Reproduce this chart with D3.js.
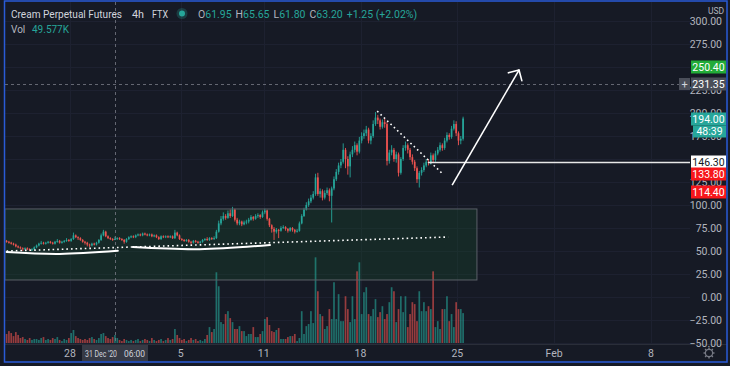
<!DOCTYPE html>
<html><head><meta charset="utf-8">
<script src="https://cdn.jsdelivr.net/npm/d3@7"></script>
<style>html,body{margin:0;padding:0;background:#161a25;overflow:hidden}</style>
</head><body><svg id="c" width="730" height="366"></svg>
<script>
// ---------- DATA ----------
const startTime = "2020-12-23T10:00:00Z"; // first 4h candle
const closes = [
60,59,58,57,55,54,53,52,53,52,
51,52,54,56,58,59,58,59,60,59,
58,60,61,59,60,61,62,61,63,67,
65,64,62,60,59,57,56,58,57,59,
62,67,71,66,64,63,61.95,63.2,64,63,
62,60,63,65,66,65,67,68,67,69,
68,67,68,66,67,65,63,66,65,66,
65,66,64,70,67,63,62,61,62,60,
59,61,60,59,60,62,63,62,64,63,
64,71,80,85,88,86,91,88,95,84,
80,82,79,81,82,84,87,85,88,89,
87,92,94,85,78,74,71,73,72,75,
76,74,72,75,73,71,72,80,88,95,
100,104,108,112,130,112,115,108,113,116,
110,118,128,136,143,147,160,150,142,155,
160,165,158,170,175,178,182,170,175,188,
195,192,185,190,188,148,157,160,150,155,
135,150,162,165,160,152,147,140,128,135,
138,143,147,146,154,149,156,160,165,162,
170,176,174,183,188,178,170,172,194];
const firstOpen = 61;
const highs = [
62,61,60,59,58,56,55,54,54,54,
53,53,55,57,59,61,60,60,61,61,
60,61,63,62,61,62,64,63,64,70,
68,66,65,63,61,60,58,59,59,60,
63,69,73,72,67,65,64,65.65,65,65,
64,63,64,66,67,67,68,69,69,70,
70,69,69,69,68,68,66,67,67,67,
67,67,67,73,71,68,64,63,63,63,
61,62,62,61,61,63,64,65,65,65,
66,73,83,88,92,90,94,95,98,96,
86,84,83,83,84,86,89,88,90,91,
90,94,96,95,86,79,76,75,74,77,
78,77,75,76,76,74,74,82,90,97,
103,107,111,115,134,135,118,117,116,119,
118,120,131,139,146,150,167,162,153,158,
164,169,167,174,179,182,186,184,178,192,
201,198,194,193,194,190,160,165,162,158,
157,152,165,169,167,162,155,149,142,137,
141,146,150,150,157,156,159,163,168,167,
173,179,178,186,192,191,180,175,196];
const lows = [
59,58,57,56,54,53,52,50,51,51,
50,50,51,53,55,57,57,57,58,58,
57,57,59,58,58,59,60,60,60,62,
64,62,61,59,57,55,54,55,56,56,
58,61,66,65,63,62,61,61.8,62,62,
61,58,59,62,64,64,64,66,66,66,
67,66,66,65,65,64,62,62,64,64,
64,64,63,63,66,62,61,60,60,59,
57,58,59,58,58,59,61,61,61,62,
62,63,70,78,83,84,85,86,87,82,
78,78,77,78,79,80,83,83,84,86,
85,86,90,83,76,70,62,69,64,71,
74,72,70,71,71,69,70,71,79,87,
94,98,102,106,110,110,108,105,106,111,
104,81,116,126,133,140,145,140,133,130,
152,157,154,156,167,172,175,167,166,173,
186,188,182,183,184,143,145,154,147,146,
131,133,148,159,156,149,144,137,124,119,
132,136,141,143,144,146,147,154,158,159,
160,168,171,172,181,175,165,166,170];
const volumesK = [
56,74,62,43,68,50,31,37,25,19,
31,19,25,25,19,31,37,19,25,19,
31,25,37,19,12,25,19,31,62,81,
43,31,25,19,25,19,31,37,25,19,
31,56,62,43,31,25,37,49.577,31,19,
12,25,19,12,19,12,19,25,12,19,
25,19,12,31,19,12,19,25,12,19,
31,19,25,87,50,31,19,25,12,19,
31,19,25,12,19,12,25,50,99,68,
87,440,353,130,118,180,198,155,130,87,
87,105,74,74,43,56,56,99,37,37,
56,74,149,161,112,74,68,81,93,25,
25,25,37,43,43,56,12,31,198,56,
105,118,198,124,533,322,180,167,87,105,
211,149,378,149,304,136,136,291,211,130,
291,149,446,502,180,316,347,180,167,211,
273,161,192,229,149,180,254,347,322,130,
211,291,192,291,99,180,254,242,136,322,
198,254,198,229,211,446,99,136,87,211,
211,291,136,180,99,254,211,211,186];

const priceTicks = [300,275,250,225,200,175,150,125,100,75,50,25,0,-25,-50];
const timeTickDates = ["2020-12-28","2021-01-05","2021-01-11","2021-01-18","2021-01-25","2021-02-01","2021-02-08"];
const timeTickLabels = ["28","5","11","18","25","Feb","8"];

// price-scale markers: value, kind
const markerValues = [250.40, 231.35, 194.00, 146.30, 133.80, 114.40];
const markerKinds  = ["green","cross","last","white","red","red"];
const countdownText = "48:39";

// drawings (time, price)
const curve1 = [["2020-12-23T10:00:00Z",48.9],["2020-12-27T06:00:00Z",46.8],["2020-12-31T11:00:00Z",50.2]];
const curve2 = [["2021-01-01T13:00:00Z",54.3],["2021-01-06T09:00:00Z",52.0],["2021-01-11T11:00:00Z",56.5]];
const supportLine = [["2020-12-23T10:00:00Z",50.0],["2021-01-24T08:00:00Z",65.2]];
const trendLine = [["2021-01-19T05:00:00Z",202.0],["2021-01-23T21:00:00Z",134.8]];
const levelLine = [["2021-01-22T21:00:00Z",146.3]];
const arrowLine = [["2021-01-24T15:00:00Z",121.7],["2021-01-29T11:00:00Z",246.7]];
const rectBox = [["2020-12-23T07:00:00Z",95.7],["2021-01-26T10:00:00Z",18.5]];
const crossTime = "2020-12-31T06:00:00Z";
const crossPrice = 231.35;
const hoverIndex = 47;
const titleParts = ["Cream Perpetual Futures", "4h", "FTX"];

// ---------- SETUP ----------
const svg = d3.select("#c");
const W = 730, H = 366;
const paneL = 5, paneR = 690, paneT = 2, paneB = 344;
const FONT = "Roboto, 'Liberation Sans', 'DejaVu Sans', sans-serif";
const UP = "#26a69a", DOWN = "#ef5350", TXT = "#b2b5be";

const x = d3.scaleUtc()
  .domain([new Date("2020-12-28T00:00:00Z"), new Date("2021-02-08T00:00:00Z")])
  .range([70, 651]);
const y = d3.scaleLinear().domain([0, 300]).range([297, 21]);
const yv = d3.scaleLinear().domain([0, 560]).range([343, 253]);

const t0 = new Date(startTime).getTime();
const candles = closes.map((c, i) => ({
  t: new Date(t0 + i * 4 * 3600 * 1000),
  o: i === 0 ? firstOpen : closes[i - 1],
  h: highs[i], l: lows[i], c: c, v: volumesK[i]
}));
const P = d => [x(new Date(d[0])), y(d[1])];

svg.append("rect").attr("width", W).attr("height", H).attr("fill", "#161a25");

const defs = svg.append("defs");
defs.append("clipPath").attr("id", "pane").append("rect")
  .attr("x", paneL).attr("y", paneT).attr("width", paneR - paneL).attr("height", paneB - paneT);

const pane = svg.append("g").attr("clip-path", "url(#pane)");

// grid
pane.selectAll(".hg").data(priceTicks).join("line")
  .attr("x1", paneL).attr("x2", paneR)
  .attr("y1", d => Math.round(y(d)) + 0.5).attr("y2", d => Math.round(y(d)) + 0.5)
  .attr("stroke", "#1d2130").attr("stroke-width", 1);
pane.selectAll(".vg").data(timeTickDates).join("line")
  .attr("y1", paneT).attr("y2", paneB)
  .attr("x1", d => Math.round(x(new Date(d + "T00:00:00Z"))) + 0.5)
  .attr("x2", d => Math.round(x(new Date(d + "T00:00:00Z"))) + 0.5)
  .attr("stroke", "#1d2130").attr("stroke-width", 1);

// rectangle fill
const r0 = P(rectBox[0]), r1 = P(rectBox[1]);
pane.append("rect")
  .attr("x", r0[0]).attr("y", r0[1]).attr("width", r1[0] - r0[0]).attr("height", r1[1] - r0[1])
  .attr("fill", "#1a4a2a").attr("fill-opacity", 0.32);

// volume
const bw = 1.7;
pane.selectAll(".vol").data(candles).join("rect")
  .attr("x", d => x(d.t) - bw / 2).attr("width", bw)
  .attr("y", d => yv(d.v)).attr("height", d => yv(0) - yv(d.v))
  .attr("fill", d => d.c >= d.o ? UP : DOWN).attr("fill-opacity", 0.6);

// candles
const cg = pane.append("g");
cg.selectAll(".wick").data(candles).join("line")
  .attr("x1", d => x(d.t)).attr("x2", d => x(d.t))
  .attr("y1", d => y(d.h)).attr("y2", d => y(d.l))
  .attr("stroke", d => d.c >= d.o ? UP : DOWN).attr("stroke-width", 0.9);
cg.selectAll(".body").data(candles).join("rect")
  .attr("x", d => x(d.t) - bw / 2).attr("width", bw)
  .attr("y", d => y(Math.max(d.o, d.c)))
  .attr("height", d => Math.max(1, Math.abs(y(d.o) - y(d.c))))
  .attr("fill", d => d.c >= d.o ? UP : DOWN);

// rectangle border
pane.append("rect")
  .attr("x", r0[0]).attr("y", r0[1]).attr("width", r1[0] - r0[0]).attr("height", r1[1] - r0[1])
  .attr("fill", "none").attr("stroke", "#5a6068").attr("stroke-width", 1);

// crosshair
const cx = Math.round(x(new Date(crossTime))) + 0.5;
const cy = Math.round(y(crossPrice)) + 0.5;
pane.append("line").attr("x1", cx).attr("x2", cx).attr("y1", paneT).attr("y2", paneB)
  .attr("stroke", "#787b86").attr("stroke-dasharray", "3,3").attr("stroke-opacity", 0.8);
pane.append("line").attr("x1", paneL).attr("x2", 679).attr("y1", cy).attr("y2", cy)
  .attr("stroke", "#787b86").attr("stroke-dasharray", "3,3").attr("stroke-opacity", 0.8);

// drawings
const smooth = d3.line().curve(d3.curveNatural);
[curve1, curve2].forEach(cv => {
  pane.append("path").attr("d", smooth(cv.map(P)))
    .attr("fill", "none").attr("stroke", "#ffffff").attr("stroke-width", 2).attr("stroke-linecap", "round");
});
[supportLine, trendLine].forEach(ln => {
  const a = P(ln[0]), b = P(ln[1]);
  pane.append("line").attr("x1", a[0]).attr("y1", a[1]).attr("x2", b[0]).attr("y2", b[1])
    .attr("stroke", "#ffffff").attr("stroke-width", 1.6).attr("stroke-dasharray", "1.6,3");
});
const lv = P(levelLine[0]);
pane.append("line").attr("x1", lv[0]).attr("x2", paneR).attr("y1", Math.round(lv[1]) + 0.5).attr("y2", Math.round(lv[1]) + 0.5)
  .attr("stroke", "#e8e8e8").attr("stroke-width", 1.6);
const a0 = P(arrowLine[0]), a1 = P(arrowLine[1]);
pane.append("line").attr("x1", a0[0]).attr("y1", a0[1]).attr("x2", a1[0]).attr("y2", a1[1])
  .attr("stroke", "#ffffff").attr("stroke-width", 1.6);
const back = Math.atan2(a0[1] - a1[1], a0[0] - a1[0]);
[-Math.PI / 4, Math.PI / 4].forEach(dA => {
  pane.append("line").attr("x1", a1[0]).attr("y1", a1[1])
    .attr("x2", a1[0] + 11 * Math.cos(back + dA)).attr("y2", a1[1] + 11 * Math.sin(back + dA))
    .attr("stroke", "#ffffff").attr("stroke-width", 1.6).attr("stroke-linecap", "round");
});

// time axis
svg.append("line").attr("x1", paneL).attr("x2", 727).attr("y1", paneB + 0.5).attr("y2", paneB + 0.5)
  .attr("stroke", "#2a2e39");
svg.selectAll(".tl").data(timeTickDates).join("text")
  .attr("x", d => x(new Date(d + "T00:00:00Z"))).attr("y", 357)
  .attr("text-anchor", "middle").attr("fill", TXT).attr("font-family", FONT).attr("font-size", 10.5)
  .text((d, i) => timeTickLabels[i]);
const ct = new Date(crossTime);
svg.append("rect").attr("x", 82).attr("y", 345).attr("width", 66).attr("height", 16).attr("fill", "#363a45");
svg.append("text").attr("x", 85).attr("y", 357).attr("fill", "#d1d4dc").attr("font-family", FONT).attr("font-size", 9.5)
  .attr("textLength", 32).attr("lengthAdjust", "spacingAndGlyphs")
  .text(d3.utcFormat("%d %b '%y")(ct));
svg.append("text").attr("x", 124).attr("y", 357).attr("fill", "#d1d4dc").attr("font-family", FONT).attr("font-size", 9.5)
  .attr("textLength", 21).attr("lengthAdjust", "spacingAndGlyphs")
  .text(d3.utcFormat("%H:%M")(ct));
// gear
const gear = svg.append("g").attr("transform", "translate(709,353)");
gear.append("circle").attr("r", 3.6).attr("fill", "none").attr("stroke", "#787b86").attr("stroke-width", 1.2);
d3.range(8).forEach(k => {
  const ang = k * Math.PI / 4;
  gear.append("line").attr("x1", 3.6 * Math.cos(ang)).attr("y1", 3.6 * Math.sin(ang))
    .attr("x2", 5.5 * Math.cos(ang)).attr("y2", 5.5 * Math.sin(ang))
    .attr("stroke", "#787b86").attr("stroke-width", 1.4);
});

// price axis labels (ones fully covered by a marker box are not drawn)
const covered = v => markerValues.some(m => Math.abs(y(m) - y(v)) < 5);
svg.append("text").attr("x", 716).attr("y", 14).attr("text-anchor", "middle")
  .attr("fill", TXT).attr("font-family", FONT).attr("font-size", 8.5).text("USD");
svg.selectAll(".pl").data(priceTicks.filter(v => !covered(v))).join("text")
  .attr("x", 722).attr("y", d => y(d) + 4).attr("text-anchor", "end")
  .attr("fill", TXT).attr("font-family", FONT).attr("font-size", 10.5)
  .text(d => d3.format(".2f")(d).replace("-", "\u2212"));

// markers
const kindStyle = {
  green: ["#22ab38", "#ffffff"], cross: ["#4a4e59", "#ffffff"], last: ["#26a69a", "#ffffff"],
  white: ["#ffffff", "#131722"], red: ["#f7161b", "#ffffff"]
};
markerValues.forEach((v, i) => {
  const k = markerKinds[i], yy = Math.round(y(v));
  const [bg, fg] = kindStyle[k];
  svg.append("rect").attr("x", 691).attr("y", yy - 6.5).attr("width", 35).attr("height", 13).attr("fill", bg);
  svg.append("text").attr("x", 708.5).attr("y", yy + 4).attr("text-anchor", "middle")
    .attr("fill", fg).attr("font-family", FONT).attr("font-size", 10.5).text(d3.format(".2f")(v));
  if (k === "last") {
    svg.append("rect").attr("x", 693).attr("y", yy + 6.5).attr("width", 33).attr("height", 12).attr("fill", "#26a69a");
    svg.append("text").attr("x", 709.5).attr("y", yy + 16).attr("text-anchor", "middle")
      .attr("fill", fg).attr("font-family", FONT).attr("font-size", 10.5).text(countdownText);
  }
  if (k === "cross") {
    svg.append("rect").attr("x", 679).attr("y", yy - 6).attr("width", 11).attr("height", 12).attr("fill", "#4a4e59");
    svg.append("text").attr("x", 684.5).attr("y", yy + 4).attr("text-anchor", "middle")
      .attr("fill", "#d1d4dc").attr("font-family", FONT).attr("font-size", 11).text("+");
  }
});

// header
const hv = candles[hoverIndex];
const hdr = svg.append("g").attr("font-family", FONT);
const titleX = [11, 132, 152], titleW = [111, 12, 16];
titleParts.forEach((s, i) => {
  hdr.append("text").attr("x", titleX[i]).attr("y", 18).attr("fill", "#d1d4dc").attr("font-size", 10.5)
    .attr("textLength", titleW[i]).attr("lengthAdjust", "spacingAndGlyphs").text(s);
});
hdr.append("circle").attr("cx", 182).attr("cy", 13.5).attr("r", 5.5).attr("fill", UP).attr("fill-opacity", 0.25);
hdr.append("circle").attr("cx", 182).attr("cy", 13.5).attr("r", 3).attr("fill", UP);
const chg = hv.c - hv.o, pct = chg / hv.o * 100;
const ohlc = hdr.append("text").attr("x", 198).attr("y", 18).attr("font-size", 10.5);
[["O", hv.o], ["H", hv.h], ["L", hv.l], ["C", hv.c]].forEach(([k, v], i) => {
  ohlc.append("tspan").attr("fill", "#b2b5be").attr("dx", i ? 4 : 0).text(k);
  ohlc.append("tspan").attr("fill", UP).text(d3.format(".2f")(v));
});
ohlc.append("tspan").attr("fill", UP).attr("dx", 4)
  .text((chg >= 0 ? "+" : "") + d3.format(".2f")(chg) + " (" + (pct >= 0 ? "+" : "") + d3.format(".2f")(pct) + "%)");
hdr.append("text").attr("x", 11).attr("y", 33).attr("fill", "#b2b5be").attr("font-size", 10).text("Vol");
hdr.append("text").attr("x", 32).attr("y", 33).attr("fill", UP).attr("font-size", 10).text(d3.format(".3f")(hv.v) + "K");

// frame
svg.append("rect").attr("x", 4.5).attr("y", 1).attr("width", 722.5).attr("height", 361)
  .attr("fill", "none").attr("stroke", "#2a5bd7").attr("stroke-width", 1.5);
</script></body></html>
